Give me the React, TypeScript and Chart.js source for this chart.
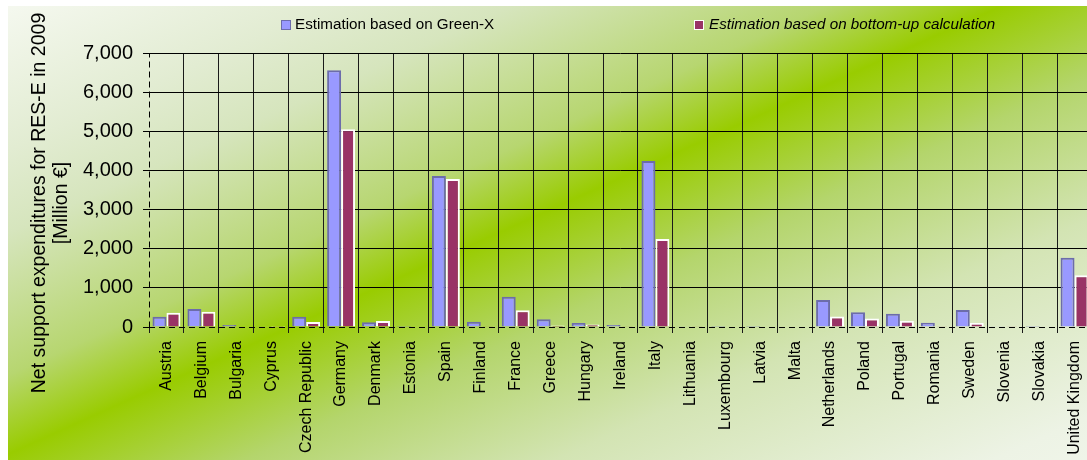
import React, { useEffect, useRef } from 'react';
import { Chart, registerables } from 'chart.js';

Chart.register(...registerables);

const categories = [
  'Austria', 'Belgium', 'Bulgaria', 'Cyprus', 'Czech Republic', 'Germany', 'Denmark', 'Estonia',
  'Spain', 'Finland', 'France', 'Greece', 'Hungary', 'Ireland', 'Italy', 'Lithuania', 'Luxembourg',
  'Latvia', 'Malta', 'Netherlands', 'Poland', 'Portugal', 'Romania', 'Sweden', 'Slovenia', 'Slovakia',
  'United Kingdom',
];

const greenX = [
  265, 460, 50, 5, 265, 6560, 120, 25, 3860, 135, 770, 195, 100, 50, 4240, 20, 25, 25, 0, 690, 375,
  340, 110, 435, 20, 25, 1770,
];

const bottomUp = [
  365, 390, 15, 2, 125, 5050, 155, 10, 3780, 5, 425, 40, 65, 20, 2250, 5, 15, 10, 0, 270, 220, 160,
  5, 100, 5, 10, 1320,
];

const seriesNames = ['Estimation based on Green-X', 'Estimation based on bottom-up calculation'];
const yTitleLines = ['Net support expenditures for RES-E in 2009', '[Million €]'];
const yMin = 0;
const yMax = 7000;
const yStep = 1000;

const FONT = '"Liberation Sans", Arial, Helvetica, sans-serif';
const BLUE = '#9999ff';
const BLUE_BORDER = '#6c6cab';
const MAROON = '#993366';

// page offset of the canvas
const OFFX = 8;
const OFFY = 6;

export default function App() {
  const ref = useRef<HTMLCanvasElement>(null);

  useEffect(() => {
    if (!ref.current) return;

    const bgPlugin = {
      id: 'bgGradient',
      beforeDraw(chart: any) {
        const { ctx, width, height } = chart;
        const len = 900;
        const dx = 0.411 * len;
        const dy = 0.911 * len;
        const g = ctx.createLinearGradient(-OFFX, -OFFY, dx - OFFX, dy - OFFY);
        g.addColorStop(0, '#f6f9f1');
        g.addColorStop(0.156, '#e2ecd2');
        g.addColorStop(0.24, '#d6e5bd');
        g.addColorStop(0.384, '#b7d670');
        g.addColorStop(0.464, '#99cc00');
        g.addColorStop(0.578, '#b4d56c');
        g.addColorStop(0.72, '#d3e4b3');
        g.addColorStop(0.92, '#edf3e5');
        g.addColorStop(1, '#f1f6eb');
        ctx.save();
        ctx.fillStyle = g;
        ctx.fillRect(0, 0, width, height);
        ctx.restore();
      },
    };

    const axisPlugin = {
      id: 'dashedAxes',
      afterDatasetsDraw(chart: any) {
        const { ctx, chartArea } = chart;
        const { left, right, top, bottom } = chartArea;
        ctx.save();
        ctx.strokeStyle = '#000';
        ctx.lineWidth = 1;
        ctx.setLineDash([6, 4]);
        const xl = Math.round(left) + 0.5;
        const yb = Math.round(bottom) + 0.5;
        ctx.beginPath();
        ctx.moveTo(xl, yb);
        ctx.lineTo(xl, top);
        ctx.stroke();
        ctx.beginPath();
        ctx.moveTo(left, yb);
        ctx.lineTo(right, yb);
        ctx.stroke();
        ctx.restore();
      },
    };

    const decorPlugin = {
      id: 'decor',
      afterDraw(chart: any) {
        const { ctx } = chart;
        const ds = chart.data.datasets;
        ctx.save();
        ctx.textBaseline = 'middle';
        ctx.textAlign = 'left';
        const items = [
          { box: 281 - OFFX, text: 295 - OFFX, italic: false },
          { box: 694 - OFFX, text: 709 - OFFX, italic: true },
        ];
        items.forEach((it, i) => {
          const by = 20 - OFFY;
          ctx.fillStyle = ds[i].backgroundColor;
          ctx.fillRect(it.box, by, 10, 10);
          ctx.strokeStyle = i === 0 ? BLUE_BORDER : '#ffffff';
          ctx.lineWidth = 1;
          ctx.strokeRect(it.box + 0.5, by + 0.5, 9, 9);
          ctx.fillStyle = '#000';
          ctx.font = `${it.italic ? 'italic ' : ''}15.2px ${FONT}`;
          ctx.fillText(ds[i].label, it.text, 25 - OFFY);
        });
        ctx.font = `19.5px ${FONT}`;
        ctx.textAlign = 'center';
        ctx.fillStyle = '#000';
        const xs = [40 - OFFX, 62 - OFFX];
        yTitleLines.forEach((line, i) => {
          ctx.save();
          ctx.translate(xs[i], 203 - OFFY);
          ctx.rotate(-Math.PI / 2);
          ctx.fillText(line, 0, 0);
          ctx.restore();
        });
        ctx.restore();
      },
    };

    const chart = new Chart(ref.current, {
      type: 'bar',
      data: {
        labels: categories,
        datasets: [
          {
            label: seriesNames[0],
            data: greenX,
            backgroundColor: BLUE,
            borderColor: BLUE_BORDER,
            borderWidth: 2,
            categoryPercentage: 0.8,
            barPercentage: 1.0,
          },
          {
            label: seriesNames[1],
            data: bottomUp,
            backgroundColor: MAROON,
            borderColor: '#ffffff',
            borderWidth: 2,
            categoryPercentage: 0.8,
            barPercentage: 1.0,
          },
        ],
      },
      options: {
        responsive: false,
        animation: false,
        layout: { padding: { top: 53 - OFFY, left: 0, right: 16, bottom: 0 } },
        plugins: {
          legend: { display: false },
          tooltip: { enabled: false },
          title: { display: false },
        },
        scales: {
          x: {
            offset: true,
            grid: {
              offset: true,
              color: (c: any) => (c.index === 0 ? 'rgba(0,0,0,0)' : '#1a1a1a'),
              tickColor: '#1a1a1a',
              tickLength: 6,
              lineWidth: 1,
            },
            border: { display: false },
            ticks: {
              autoSkip: false,
              maxRotation: 90,
              minRotation: 90,
              padding: 8,
              color: '#000',
              font: { size: 16, family: FONT },
            },
            afterFit: (s: any) => {
              s.height = 460 - 327;
            },
          },
          y: {
            min: yMin,
            max: yMax,
            grid: {
              color: (c: any) => (c.tick && c.tick.value === 0 ? 'rgba(0,0,0,0)' : '#000'),
              tickColor: '#000',
              tickLength: 6,
              lineWidth: 1,
            },
            border: { display: false },
            ticks: {
              stepSize: yStep,
              padding: 10,
              color: '#000',
              font: { size: 20, family: FONT },
              callback: (v: any) => Number(v).toLocaleString('en-US'),
            },
            afterFit: (s: any) => {
              s.width = 149 - OFFX;
            },
          },
        },
      },
      plugins: [bgPlugin, axisPlugin, decorPlugin],
    } as any);

    return () => chart.destroy();
  }, []);

  return (
    <div
      style={{
        position: 'absolute',
        left: OFFX,
        top: OFFY,
        width: 1087 - OFFX,
        height: 460 - OFFY,
        overflow: 'hidden',
      }}
    >
      <canvas ref={ref} width={1100} height={460 - OFFY} style={{ display: 'block' }} />
    </div>
  );
}
